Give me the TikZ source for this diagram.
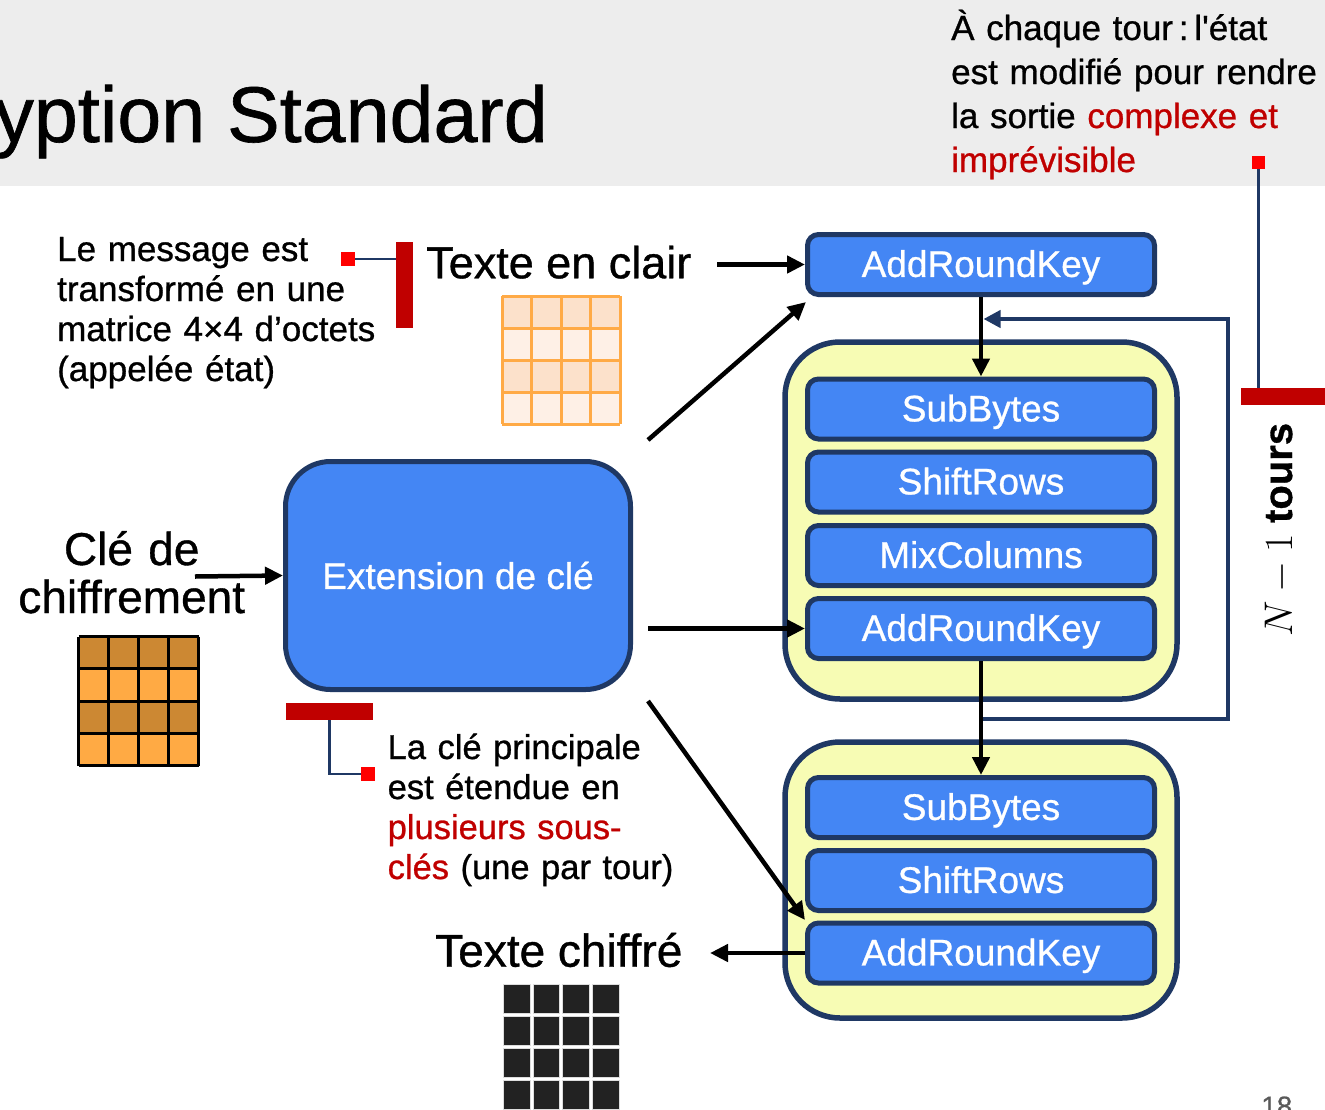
\RequirePackage{fix-cm}
\documentclass[tikz,border=0pt]{standalone}
\usepackage{fontspec}
\setmainfont{Liberation Sans}[FakeBold=0.8]
\usetikzlibrary{arrows.meta,calc}
\frenchspacing

\definecolor{headgrey}{HTML}{EDEDED}
\definecolor{gblue}{HTML}{4486F4}
\definecolor{navy}{HTML}{1F3864}
\definecolor{ylw}{HTML}{F7FCB4}
\definecolor{cred}{HTML}{C00000}
\definecolor{bred}{HTML}{FF0000}
\definecolor{peachA}{HTML}{FCE1CB}
\definecolor{peachB}{HTML}{FEF0E6}
\definecolor{orng}{HTML}{FFAA46}
\definecolor{keyA}{HTML}{CC8833}
\definecolor{keyB}{HTML}{FFAA44}
\definecolor{cellc}{HTML}{222222}
\definecolor{gridlt}{HTML}{DDDDDD}
\definecolor{pgnum}{HTML}{595959}

\newcommand\fpx[2]{\fontsize{#1pt}{#2pt}\selectfont}

\begin{document}
\begin{tikzpicture}[x=1pt,y=-1pt,
  stepbox/.style={draw=navy, line width=5pt, fill=gblue, rounded corners=11pt,
    minimum width=347pt, minimum height=60pt, inner sep=0pt, text=white,
    font=\fpx{37}{40}, text depth=2pt},
  roundbox/.style={draw=navy, line width=5.5pt, fill=ylw, rounded corners=55pt,
    minimum width=392pt, inner sep=0pt},
  arr/.style={line width=4.5pt, -{Triangle[length=18pt,width=17pt]}},
  loopline/.style={draw=navy, line width=4pt, -{Triangle[length=17pt,width=17pt]}},
  lead/.style={draw=navy, line width=2.5pt},
  sq/.style={fill=bred, minimum size=13.5pt, inner sep=0pt},
  bar/.style={fill=cred, inner sep=0pt},
  txt/.style={inner sep=0pt, anchor=base west},
]
\useasboundingbox (0,0) rectangle (1325,1109);
\clip (0,0) rectangle (1325,1109);

% header band and title
\fill[headgrey] (0,0) rectangle (1325,186);
\node[txt, anchor=base east, font=\fpx{79}{90}] (title) at (548,142) {yption Standard};
\node[txt, text width=380pt, align=left, font=\fpx{35}{44}] (roundnote) at (951,40)
  {À chaque tour\,:\,l\textquotesingle état\\
   est modifié pour rendre\\
   la sortie \textcolor{cred}{complexe et}\\
   \textcolor{cred}{imprévisible}};

% notes on the left
\node[txt, text width=340pt, align=left, font=\fpx{35}{40}] (statenote) at (57,261)
  {Le message est\\
   transformé en une\\
   matrice 4×4 d’octets\\
   (appelée état)};
\node[txt, text width=300pt, align=left, font=\fpx{34.5}{40}] (keynote) at (387.5,759)
  {La clé principale\\
   est étendue en\\
   \textcolor{cred}{plusieurs sous-}\\
   \textcolor{cred}{clés} (une par tour)};

% labels
\node[txt, font=\fpx{45}{50}] (ptxt) at (426,278.3) {Texte en clair};
\node[inner sep=0pt, anchor=base, text width=260pt, align=center, font=\fpx{46}{48}] (ktxt) at (131.7,565)
  {Clé de\\ chiffrement};
\node[txt, font=\fpx{46}{50}] (ctxt) at (435,966.7) {Texte chiffré};
\node[txt, rotate=90, font=\fpx{40}{44}] (ntours) at (1292,637) {$N-1$ \textbf{tours}};
\node[txt, text=pgnum, font=\fpx{28}{30}] (pg) at (1261,1116) {18};

% plaintext state matrix
\begin{scope}[shift={(502,296)}]
  \foreach \r/\col in {0/peachA,1/peachB,2/peachA,3/peachB}
    \fill[\col] (0,\r*32) rectangle (118,\r*32+32);
  \foreach \i in {0,...,4} {
    \draw[orng, line width=3pt] (\i*29.5,0) -- (\i*29.5,128);
    \draw[orng, line width=3pt] (0,\i*32) -- (118,\i*32);
  }
\end{scope}

% key matrix
\begin{scope}[shift={(78.5,636.5)}]
  \foreach \r/\col in {0/keyA,1/keyB,2/keyA,3/keyB}
    \fill[\col] (0,\r*32.3) rectangle (120,\r*32.3+32.3);
  \foreach \i in {0,...,4} {
    \draw[black, line width=3pt] (\i*30,0) -- (\i*30,129.2);
    \draw[black, line width=3pt] (0,\i*32.3) -- (120,\i*32.3);
  }
\end{scope}

% ciphertext matrix
\begin{scope}[shift={(503.3,984.3)}]
  \foreach \r in {0,...,3}
    \foreach \c in {0,...,3}
      \filldraw[fill=cellc, draw=gridlt, line width=1pt] (\c*29.7,\r*32.2) rectangle ++(26.7,29);
\end{scope}

% key expansion
\node[draw=navy, line width=5pt, fill=gblue, rounded corners=45pt, minimum width=345pt,
  minimum height=228pt, inner sep=0pt, text=white, font=\fpx{37}{40}] (ext) at (458,575.5)
  {Extension de clé};

% round containers
\node[roundbox, minimum height=357pt] (cont1) at (981,520.5) {};
\node[roundbox, minimum height=276pt] (cont2) at (981,880) {};

% round steps
\node[stepbox] (ark0) at (981,264.5) {AddRoundKey};
\node[stepbox] (sb1) at (981,409) {SubBytes};
\node[stepbox] (sr1) at (981,482) {ShiftRows};
\node[stepbox] (mc1) at (981,555.5) {MixColumns};
\node[stepbox] (ark1) at (981,628.5) {AddRoundKey};
\node[stepbox] (sb2) at (981,807.5) {SubBytes};
\node[stepbox] (sr2) at (981,880.5) {ShiftRows};
\node[stepbox] (ark2) at (981,953) {AddRoundKey};

% connector end points
\coordinate (ptin) at (717,264.5);
\coordinate (kin) at (195,576.5);
\coordinate (k0) at (648,440);
\coordinate (k0e) at (806,302);
\coordinate (k1) at (648,628.5);
\coordinate (k2) at (648,701);
\coordinate (k2e) at (805,920);
\coordinate (ctout) at (710,953);
\coordinate (lp) at (981,719);
\coordinate (lpR) at (1228,719);
\coordinate (lpT) at (1228,319);
\coordinate (lpEnd) at (983.5,319);

% feedback loop
\draw[loopline] (lp) -- (lpR) -- (lpT) -- (lpEnd);

% data flow
\draw[arr] (ptin) -- (ark0.west);
\draw[arr] (k0) -- (k0e);
\draw[arr] (kin) -- (ext.west);
\draw[arr] (k1) -- (ark1.west);
\draw[arr] (k2) -- (k2e);
\draw[arr] (ark2.west) -- (ctout);
\draw[arr] (ark0.south) -- (sb1.north);
\draw[arr] (ark1.south) -- (sb2.north);

% annotation markers
\node[sq] (sq1) at (348,259) {};
\node[bar, minimum width=17pt, minimum height=86pt] (bar1) at (404.5,285) {};
\draw[lead] (sq1.east) -- (bar1.west |- sq1.east);

\node[bar, minimum width=87pt, minimum height=17pt] (bar2) at (329.5,711.5) {};
\node[sq] (sq2) at (368,773.75) {};
\draw[lead] (bar2.south) |- (sq2.west);

\node[sq] (sq3) at (1258.25,162.5) {};
\node[bar, minimum width=84pt, minimum height=17pt] (bar3) at (1283,396.5) {};
\draw[lead] (sq3.south) -- (sq3.south |- bar3.north);
\end{tikzpicture}
\end{document}
